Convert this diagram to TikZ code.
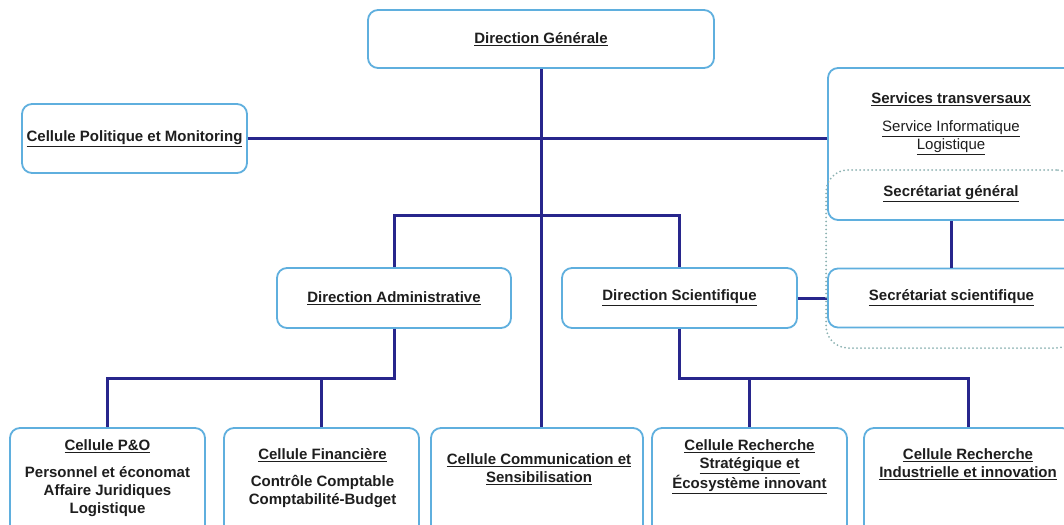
\documentclass[tikz,border=0pt]{standalone}
\usepackage{fontspec}
\setsansfont{Liberation Sans}
\usepackage{xcolor}
\usetikzlibrary{positioning}
\definecolor{boxblue}{RGB}{95,175,222}
\definecolor{linknavy}{RGB}{40,38,140}
\definecolor{dotgray}{RGB}{140,178,178}
\definecolor{txtgray}{RGB}{30,30,30}

\begin{document}
\begin{tikzpicture}[
    x=1pt, y=-1pt,
    box/.style={rectangle, rounded corners=10pt, draw=boxblue, line width=1.8pt, fill=white, align=center, text=txtgray, font=\sffamily\bfseries\fontsize{15}{18}\selectfont},
    cellbox/.style={box, minimum height=112pt},
    celltext/.style={align=center, inner sep=0pt, text=txtgray, font=\sffamily\bfseries\fontsize{15}{18}\selectfont},
    grpbox/.style={rectangle, rounded corners=22pt, draw=dotgray, line width=2pt, dash pattern=on 0pt off 4pt, line cap=round, minimum width=252pt, minimum height=178pt},
    link/.style={draw=linknavy, line width=3pt}
]
\useasboundingbox (0,0) rectangle (1064,524);
\clip (0,0) rectangle (1064,524);

% top level
\node[box, minimum width=346pt, minimum height=58pt] (dg) at (541,39) {\underline{Direction Générale}};
\node[box, minimum width=225pt, minimum height=69pt] (pol) at (134.5,138.5) {\underline{Cellule Politique et Monitoring}};
\node[box, minimum width=252pt, minimum height=152pt] (serv) at (954,144) {};
\node[celltext, below=25.6pt of serv.north, xshift=-3pt] (servtxt) {\underline{Services transversaux}\\[10pt]
    \mdseries\underline{Service Informatique}\\\mdseries\underline{Logistique}};
\node[celltext, anchor=base] (secgen) at (951,196.4) {\underline{Secrétariat général}};

% directions
\node[box, minimum width=234pt, minimum height=60pt] (da) at (394,298) {\underline{Direction Administrative}};
\node[box, minimum width=235pt, minimum height=60pt] (ds) at (679.5,298) {\underline{Direction Scientifique}};
\node[box, minimum width=247pt, minimum height=59pt] (secsci) at (951.5,298) {\underline{Secrétariat scientifique}};

% cellules
\node[cellbox, minimum width=195pt] (pao) at (107.5,484) {};
\node[cellbox, minimum width=195pt] (fin) at (321.5,484) {};
\node[cellbox, minimum width=212pt] (comm) at (537,484) {};
\node[cellbox, minimum width=195pt] (strat) at (749.5,484) {};
\node[cellbox, minimum width=208pt] (indus) at (968,484) {};
\node[celltext, below=12.6pt of pao.north] (paotxt) {\underline{Cellule P\&O}\\[9pt]Personnel et économat\\Affaire Juridiques\\Logistique};
\node[celltext, below=21.6pt of fin.north, xshift=1pt] (fintxt) {\underline{Cellule Financière}\\[9pt]Contrôle Comptable\\Comptabilité-Budget};
\node[celltext, below=26.6pt of comm.north, xshift=2pt] (commtxt) {\underline{Cellule Communication et}\\\underline{Sensibilisation}};
\node[celltext, below=12.6pt of strat.north] (strattxt) {\underline{Cellule Recherche}\\\underline{Stratégique et}\\\underline{Écosystème innovant}};
\node[celltext, below=21.6pt of indus.north] (industxt) {\underline{Cellule Recherche}\\\underline{Industrielle et innovation}};

\coordinate (hub) at (541,215);
\coordinate (adbar) at (0,378);
\coordinate (sbar) at (0,378);

% connectors
\draw[link] (dg) -- (dg |- comm.north);
\draw[link] (pol.east) -- (pol.east -| serv.west);
\draw[link] (da.north) |- (hub) -| (ds.north);
\draw[link] (da.south) -- (da.south |- adbar) -| (pao.north);
\draw[link] (fin.north) -- (fin.north |- adbar);
\draw[link] (ds.south) -- (ds.south |- sbar) -| (indus.north);
\draw[link] (strat.north) -- (strat.north |- sbar);
\draw[link] (ds.east) -- (secsci.west);
\draw[link] (secsci.north) -- (secsci.north |- serv.south);

\node[grpbox] (secgrp) at (952,259) {};
\end{tikzpicture}
\end{document}
